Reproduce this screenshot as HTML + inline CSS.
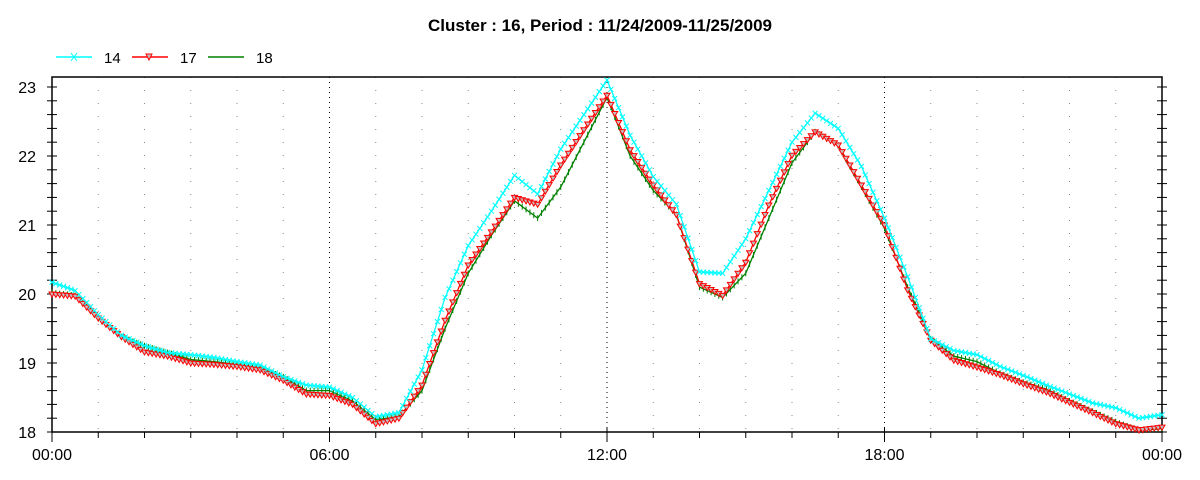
<!DOCTYPE html>
<html><head><meta charset="utf-8"><style>
body{margin:0;background:#fff;}
svg{display:block;font-family:"Liberation Sans",sans-serif;}
</style></head><body>
<svg id="c" width="1200" height="480">
<text x="600" y="31" text-anchor="middle" font-size="17" font-weight="bold">Cluster : 16, Period : 11/24/2009-11/25/2009</text>
<g>
<g><line x1="56" y1="57" x2="92" y2="57" stroke="#00ffff" stroke-width="1.5"/><path d="M71 53l6 8M77 53l-6 8" stroke="#00ffff"/><text x="104" y="63" font-size="15">14</text></g>
<g><line x1="132" y1="57" x2="168" y2="57" stroke="#ff0000" stroke-width="1.5"/><path d="M146 54h6l-3 6z" fill="#c0c0c0" stroke="#ff0000"/><text x="180" y="63" font-size="15">17</text></g>
<g><line x1="208" y1="57" x2="244" y2="57" stroke="#008000" stroke-width="1.5"/><text x="256" y="63" font-size="15">18</text></g>
</g>
<g id="grid"></g><g id="axes"></g><g id="series"></g>
</svg>
<script>
const hours=[0,0.5,1,1.5,2,2.5,3,3.5,4,4.5,5,5.5,6,6.5,7,7.5,8,8.5,9,9.5,10,10.5,11,11.5,12,12.5,13,13.5,14,14.5,15,15.5,16,16.5,17,17.5,18,18.5,19,19.5,20,20.5,21,21.5,22,22.5,23,23.5,24];
const s14=[20.17,20.05,19.7,19.4,19.25,19.15,19.12,19.08,19.02,18.97,18.8,18.68,18.65,18.5,18.22,18.28,18.9,19.95,20.7,21.2,21.72,21.45,22.1,22.6,23.1,22.3,21.7,21.3,20.32,20.3,20.8,21.5,22.2,22.62,22.4,21.85,21.1,20.25,19.35,19.18,19.12,18.95,18.82,18.68,18.55,18.42,18.35,18.2,18.25];
const s17=[20.0,19.97,19.65,19.38,19.16,19.1,19.0,18.98,18.95,18.9,18.75,18.55,18.53,18.4,18.12,18.2,18.68,19.62,20.42,20.9,21.4,21.3,21.87,22.38,22.88,22.09,21.58,21.15,20.15,19.98,20.46,21.29,22.01,22.35,22.16,21.58,21.0,20.06,19.33,19.04,18.94,18.83,18.7,18.58,18.43,18.28,18.12,18.03,18.07];
const s18=[20.02,19.98,19.65,19.38,19.25,19.15,19.05,19.02,18.98,18.92,18.8,18.6,18.6,18.45,18.18,18.22,18.6,19.5,20.3,20.85,21.35,21.1,21.55,22.2,22.85,22.0,21.5,21.15,20.1,19.95,20.3,21.1,21.9,22.35,22.15,21.55,20.95,20.1,19.35,19.1,19.02,18.85,18.72,18.62,18.45,18.3,18.15,18.02,18.05];
const yTicks=[18,19,20,21,22,23];
const xLabels=["00:00","06:00","12:00","18:00","00:00"];
const L=52,R=1162,T=77,B=432;
const X=h=>L+(R-L)*h/24, Y=v=>B-(v-18)*69;
const NS="http://www.w3.org/2000/svg";
function mk(p,t,a){const e=document.createElementNS(NS,t);for(const k in a)e.setAttribute(k,a[k]);p.appendChild(e);return e;}
const grid=document.getElementById('grid'),axes=document.getElementById('axes'),ser=document.getElementById('series');
for(let h=1;h<24;h++){const g=mk(grid,'line',{x1:X(h),x2:X(h),y1:T,y2:B,stroke:h%6?'#888':'#000','stroke-dasharray':h%6?'1 12':'1 4'});

}
const fr=mk(axes,'rect',{x:L,y:T,width:R-L,height:B-T,fill:'none',stroke:'#000','stroke-width':1.5});


for(let v=18;v<=23.001;v+=0.2){const y=Y(v);mk(axes,'line',{x1:L-5,x2:L+5,y1:y,y2:y,stroke:'#000'});mk(axes,'line',{x1:R-5,x2:R+5,y1:y,y2:y,stroke:'#000'});}
yTicks.forEach(v=>{const t=mk(axes,'text',{x:36,y:Y(v)+6,'text-anchor':'end','font-size':16});t.textContent=v;

});
for(let h=0;h<=24;h++){mk(axes,'line',{x1:X(h),x2:X(h),y1:B-(h%6?0:4),y2:B+(h%6?6:10),stroke:'#000'});}
xLabels.forEach((s,i)=>{const t=mk(axes,'text',{x:X(i*6),y:460,'text-anchor':'middle','font-size':16});t.textContent=s;

});
function draw(vals,col,name,marker){
const g=mk(ser,'g',{});


mk(g,'polyline',{points:vals.map((v,i)=>X(hours[i])+','+Y(v)).join(' '),fill:'none',stroke:col,'stroke-width':1.3});
for(let i=0;i<vals.length;i++){
 const pts=[[hours[i],vals[i]]];
 if(i<vals.length-1)for(let k=1;k<6;k++)pts.push([hours[i]+(hours[i+1]-hours[i])*k/6,vals[i]+(vals[i+1]-vals[i])*k/6]);
 pts.forEach(([h,v])=>{const x=X(h),y=Y(v);
  if(marker==='x')mk(g,'path',{d:`M${x-2.5} ${y-2.5}l5 5M${x+2.5} ${y-2.5}l-5 5`,stroke:col,'stroke-width':1});
  else if(marker==='tri')mk(g,'path',{d:`M${x-3} ${y-2}h6l-3 5z`,fill:'#c0c0c0',stroke:col,'stroke-width':1});
  else mk(g,'path',{d:`M${x} ${y-3}v6`,stroke:col,'stroke-width':1});});
}}
draw(s18,'#008000','series-18','tick');
draw(s17,'#ff0000','series-17','tri');
draw(s14,'#00ffff','series-14','x');
</script>
</body></html>
